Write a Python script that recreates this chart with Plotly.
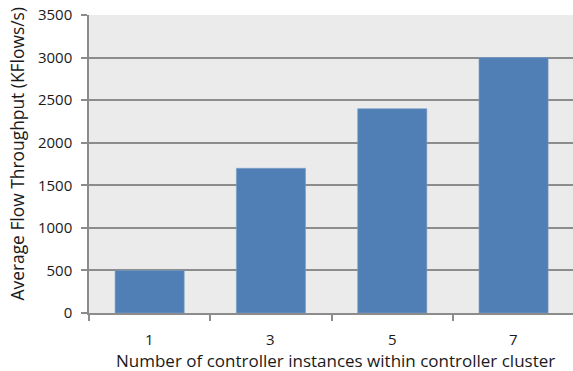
import plotly.graph_objects as go

# Cluster sizes and measured throughput
instances = ["1", "3", "5", "7"]
throughput = [500, 1700, 2400, 3000]
y_ticks = [0, 500, 1000, 1500, 2000, 2500, 3000, 3500]

x_title = "Number of controller instances within controller cluster"
y_title = "Average Flow Throughput (KFlows/s)"

FONT = "Open Sans, sans-serif"
GRID = "#8c8c8c"
TEXT = "#1a1a1a"

fig = go.Figure(
    go.Bar(
        x=instances,
        y=throughput,
        width=0.57,
        marker=dict(color="#4F7FB5", line=dict(color="#7fa0c9", width=0.6)),
    )
)

fig.update_layout(
    width=573,
    height=371,
    margin=dict(l=89, r=0, t=15, b=58),
    paper_bgcolor="white",
    plot_bgcolor="#EBEBEB",
    showlegend=False,
    font=dict(family=FONT, size=15, color=TEXT),
)

fig.update_xaxes(
    type="category",
    range=[-0.5, 3.49],
    tickson="boundaries",
    ticks="outside",
    ticklen=6,
    tickwidth=1.5,
    tickcolor=GRID,
    showticklabels=False,
    showline=True,
    linecolor=GRID,
    linewidth=1.5,
    showgrid=False,
)

fig.update_yaxes(
    range=[0, 3500],
    tickvals=y_ticks,
    ticks="outside",
    ticklen=6,
    tickwidth=1.5,
    tickcolor=GRID,
    ticklabelstandoff=6,
    showline=True,
    linecolor=GRID,
    linewidth=1.5,
    showgrid=True,
    gridcolor=GRID,
    gridwidth=1.5,
    zeroline=False,
    tickfont=dict(family=FONT, size=15, color=TEXT),
)

# Category labels under each bar (category axis positions are indices)
for i, cat in enumerate(instances):
    fig.add_annotation(
        text=cat, xref="x", yref="paper", x=i, y=-0.088,
        xanchor="center", yanchor="middle", showarrow=False,
        font=dict(family=FONT, size=15, color=TEXT),
    )

# Axis titles placed as paper-anchored text
fig.add_annotation(
    text=x_title, xref="paper", yref="paper", x=0.51, y=-0.161,
    xanchor="center", yanchor="middle", showarrow=False,
    font=dict(family=FONT, size=17.0, color=TEXT),
)
fig.add_annotation(
    text=y_title, xref="paper", yref="paper", x=-0.1488, y=0.535,
    xanchor="center", yanchor="middle", showarrow=False, textangle=-90,
    font=dict(family=FONT, size=17.4, color=TEXT),
)

fig.write_html("out.html")
